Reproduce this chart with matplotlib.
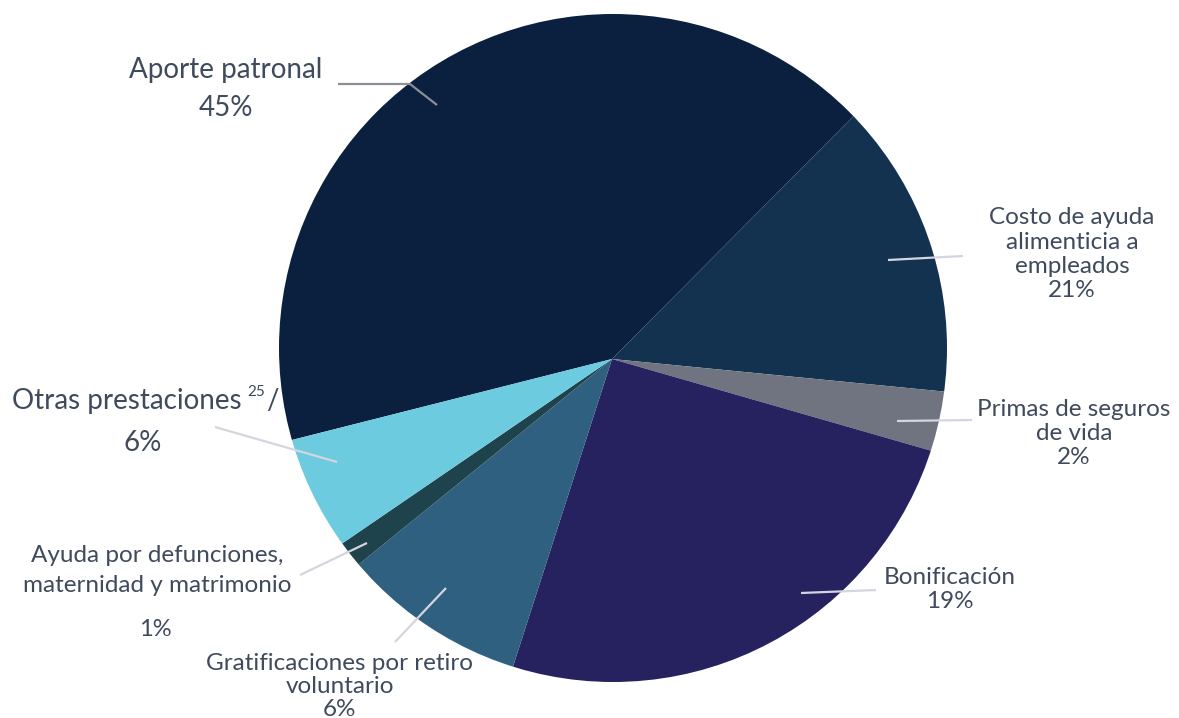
import matplotlib
matplotlib.use("Agg")
import matplotlib.pyplot as plt
from matplotlib.patches import Circle

# porciones (orden horario desde "Aporte patronal"), medidas en la imagen
categorias = ["Aporte patronal", "Costo de ayuda alimenticia a empleados",
              "Primas de seguros de vida", "Bonificación",
              "Gratificaciones por retiro voluntario",
              "Ayuda por defunciones, maternidad y matrimonio",
              "Otras prestaciones"]
porciones = [41.4, 14.1, 2.9, 25.5, 9.2, 1.3, 5.6]
porcentajes = ["45%", "21%", "2%", "19%", "6%", "1%", "6%"]
colores = ["#0b1f3e", "#13324f", "#6f7480", "#26215f",
           "#30607f", "#1e434c", "#6dcbdf"]

COLOR_TEXTO = "#3f4a5c"
COLOR_LINEA = "#d5d5e0"
FUENTE = "Lato"

W, H = 1179, 718

fig = plt.figure(figsize=(W / 100, H / 100), dpi=100)
ax = fig.add_axes([0, 0, 1, 1])

# vertice de las porciones y circulo de recorte (coordenadas de pixel, y hacia arriba)
vertice = (612, H - 359)

wedges, _ = ax.pie(porciones, colors=colores, startangle=194.2,
                   counterclock=False, center=vertice, radius=420,
                   wedgeprops=dict(linewidth=0), frame=True)

ax.set_xlim(0, W)
ax.set_ylim(0, H)
ax.set_aspect("equal")
ax.axis("off")

# el circulo exterior no esta centrado en el vertice
circulo = Circle((613, H - 348), 334, fill=False, lw=0)
ax.add_patch(circulo)
circulo.set_visible(False)
for w in wedges:
    w.set_clip_on(True)
    w.set_clip_path(circulo)


def y(v):
    return H - v


def texto(x, yy, s, size=18, ha="center"):
    ax.text(x, y(yy), s, fontsize=size, color=COLOR_TEXTO, family=FUENTE,
            ha=ha, va="center")


def linea(pts, color=COLOR_LINEA):
    xs = [p[0] for p in pts]
    ys = [y(p[1]) for p in pts]
    ax.plot(xs, ys, color=color, lw=1.6, solid_capstyle="butt")


# Aporte patronal
texto(226, 70, "Aporte patronal", 20)
texto(226, 108, porcentajes[0], 20)
linea([(338, 84), (410, 84), (437, 105)], color="#8c9096")

# Costo de ayuda alimenticia
for i, s in enumerate(["Costo de ayuda", "alimenticia a", "empleados", porcentajes[1]]):
    texto(1072, 218 + i * 24.3, s, 17.5)
linea([(888, 260), (963, 256)])

# Primas de seguros de vida
for i, s in enumerate(["Primas de seguros", "de vida", porcentajes[2]]):
    texto(1074, 410 + i * 23.5, s, 17.5)
linea([(897, 421), (972, 420)])

# Bonificacion
texto(950, 577, "Bonificación", 17.5)
texto(950, 601, porcentajes[3], 17.5)
linea([(801, 593), (876, 590)])

# Gratificaciones por retiro voluntario
for i, s in enumerate(["Gratificaciones por retiro", "voluntario", porcentajes[4]]):
    texto(340, 663 + i * 23.3, s, 17.5)
linea([(446, 588), (395, 642)])

# Ayuda por defunciones
texto(157, 556, "Ayuda por defunciones,", 17.5)
texto(157, 586, "maternidad y matrimonio", 17.5)
texto(155, 630, porcentajes[5], 17)
linea([(300, 575), (367, 543)])

# Otras prestaciones
texto(12, 401, "Otras prestaciones", 20, ha="left")
texto(247, 392, "25", 11, ha="left")
texto(266, 401, "/", 20, ha="left")
texto(143, 443, porcentajes[6], 20)
linea([(215, 427), (337, 462)])

fig.savefig("out.png", dpi=100, facecolor="white")
